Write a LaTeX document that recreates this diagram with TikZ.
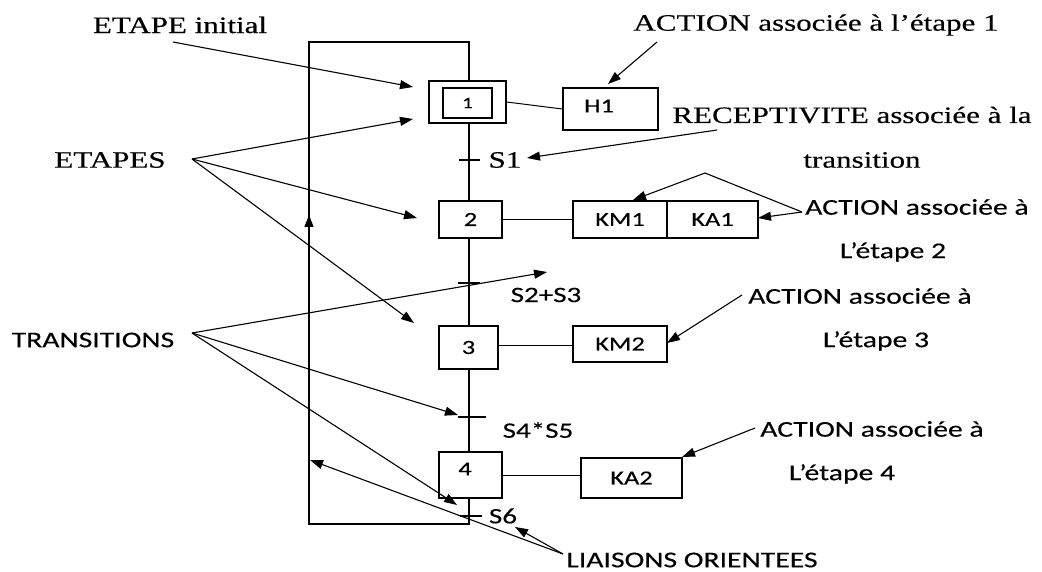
\documentclass[tikz,border=0pt]{standalone}
\usepackage{fontspec}
\usetikzlibrary{arrows.meta}
\newfontfamily\grserif[FakeStretch=1.32,FakeBold=0.3]{Liberation Serif}
\newfontfamily\grsans[FakeStretch=1.32,FakeBold=0.3]{Carlito}
\tikzset{
  stepbox/.style={draw, line width=1.3pt, inner sep=0pt, font=\grsans\fontsize{20}{22}\selectfont},
  actbox/.style={draw, line width=1.3pt, inner sep=0pt, font=\grsans\fontsize{20}{22}\selectfont},
  link/.style={line width=1.3pt},
  thin link/.style={line width=1.0pt},
  tick/.style={line width=1.1pt},
  note/.style={-{Triangle[length=13pt,width=9pt]}, line width=1.1pt},
  plain note/.style={line width=1.1pt},
  sertxt/.style={inner sep=0pt, font=\grserif\fontsize{23.5}{26}\selectfont},
  santxt/.style={inner sep=0pt, font=\grsans\fontsize{22.5}{25}\selectfont},
  rectxt/.style={inner sep=0pt, font=\grsans\fontsize{22}{24}\selectfont},
}
\begin{document}
\begin{tikzpicture}[x=1pt,y=-1pt]
\useasboundingbox (0,0) rectangle (1042,572);

% steps of the sequence
\node[stepbox, minimum width=77pt, minimum height=42pt] (e1) at (467.5,102) {};
\node[stepbox, minimum width=49pt, minimum height=30pt, font=\grsans\fontsize{16}{18}\selectfont] (e1i) at (467.5,103) {1};
\node[stepbox, minimum width=63pt, minimum height=37pt] (e2) at (470.5,219.5) {2};
\node[stepbox, minimum width=59pt, minimum height=43pt] (e3) at (468.5,347.5) {3};
\node[stepbox, minimum width=63pt, minimum height=46pt] (e4) at (470.5,475) {};
\node[inner sep=0pt, font=\grsans\fontsize{20}{22}\selectfont] (e4t) at (465,469) {4};

% actions
\node[actbox, minimum width=95pt, minimum height=42pt] (h1) at (610.5,109) {};
\node[inner sep=0pt, font=\grsans\fontsize{20}{22}\selectfont] (h1t) at (599,106) {H1};
\node[actbox, minimum width=94pt, minimum height=37pt] (km1) at (620,219.5) {KM1};
\node[actbox, minimum width=91pt, minimum height=37pt] (ka1) at (712.5,219.5) {KA1};
\node[actbox, minimum width=94pt, minimum height=36pt] (km2) at (620,344) {KM2};
\node[actbox, minimum width=101pt, minimum height=40pt] (ka2) at (631.5,478) {KA2};

% loop corners
\coordinate (lb) at (469,524);
\coordinate (ll) at (309,524);
\coordinate (lu) at (309,42);
\coordinate (lr) at (469,42);
\coordinate (lm) at (309,215);

% vertical links
\draw[link] (e1.south -| 469,0) -- (e2.north -| 469,0);
\draw[link] (e2.south -| 469,0) -- (e3.north -| 469,0);
\draw[link] (e3.south -| 469,0) -- (e4.north -| 469,0);
\draw[link] (e4.south -| 469,0) -- (lb) -- (ll) -- (lm);
\draw[link, -{Triangle[length=12pt,width=9pt]}] (ll) -- (lm);
\draw[link] (lm) -- (lu) -- (lr) -- (e1.north -| 469,0);

% links between steps and actions
\draw[thin link] (e1.east) -- (h1.west);
\draw[thin link] (e2.east) -- (km1.west);
\draw[thin link] (e3.east |- 0,345) -- (km2.west |- 0,345);
\draw[thin link] (e4.east) -- (ka2.west |- e4.east);

% transitions
\coordinate (t1a) at (459,160); \coordinate (t1b) at (480,160);
\coordinate (t2a) at (458,283); \coordinate (t2b) at (480,283);
\coordinate (t3a) at (458,417); \coordinate (t3b) at (486,417);
\coordinate (t4a) at (460,516); \coordinate (t4b) at (482,516);
\draw[tick] (t1a) -- (t1b);
\draw[tick] (t2a) -- (t2b);
\draw[tick] (t3a) -- (t3b);
\draw[tick] (t4a) -- (t4b);

% receptivities
\node[sertxt] (s1) at (505,160) {S1};
\node[rectxt] (s23) at (546,295) {S2+S3};
\node[rectxt] (s45) at (538,430) {S4*S5};
\node[rectxt] (s6) at (503,516) {S6};

% labels
\node[sertxt] (linit) at (180,25) {ETAPE initial};
\node[sertxt] (letapes) at (110,160) {ETAPES};
\node[santxt] (ltrans) at (93,340) {TRANSITIONS};
\node[santxt] (lliais) at (692,560) {LIAISONS ORIENTEES};
\node[sertxt] (la1) at (816,25) {ACTION associée à l’étape 1};
\node[sertxt] (lrec) at (852,115) {RECEPTIVITE associée à la};
\node[sertxt] (lrec2) at (862,160) {transition};
\node[santxt] (la2) at (917,207) {ACTION associée à};
\node[santxt] (la2b) at (893,252) {L’étape 2};
\node[santxt] (la3) at (860,296) {ACTION associée à};
\node[santxt] (la3b) at (876,341) {L’étape 3};
\node[santxt] (la4) at (872,429) {ACTION associée à};
\node[santxt] (la4b) at (842,474) {L’étape 4};

% annotation arrows
\coordinate (oinit) at (173,42);
\coordinate (oetapes) at (192,159);
\coordinate (otrans) at (192,333);
\coordinate (oliais) at (563,554);
\coordinate (oa1) at (657,42);
\coordinate (orec) at (717,130);
\coordinate (oa2) at (802,212);
\coordinate (apex2) at (705,173);
\coordinate (oa3) at (742,295);
\coordinate (oa4) at (755,428);

\coordinate (pinit) at (413,87);
\coordinate (pe1) at (413,119);
\coordinate (pe2) at (417,218);
\coordinate (pe3) at (414,323);
\coordinate (pt2) at (547,272);
\coordinate (pt3) at (458,415);
\coordinate (pt4) at (457,505);
\coordinate (pl1) at (515,527);
\coordinate (pl2) at (310,460);
\coordinate (pa1) at (608,84);
\coordinate (prec) at (527,158);
\coordinate (pkm1) at (633,200);
\coordinate (pka1) at (758,218);
\coordinate (pkm2) at (667,343);
\coordinate (pka2) at (682,457);

\draw[note] (oinit) -- (pinit);
\draw[note] (oetapes) -- (pe1);
\draw[note] (oetapes) -- (pe2);
\draw[note] (oetapes) -- (pe3);
\draw[note] (otrans) -- (pt2);
\draw[note] (otrans) -- (pt3);
\draw[note] (otrans) -- (pt4);
\draw[note] (oliais) -- (pl1);
\draw[note] (oliais) -- (pl2);
\draw[note] (oa1) -- (pa1);
\draw[note] (orec) -- (prec);
\draw[plain note] (oa2) -- (apex2);
\draw[note] (apex2) -- (pkm1);
\draw[note] (oa2) -- (pka1);
\draw[note] (oa3) -- (pkm2);
\draw[note] (oa4) -- (pka2);
\end{tikzpicture}
\end{document}
